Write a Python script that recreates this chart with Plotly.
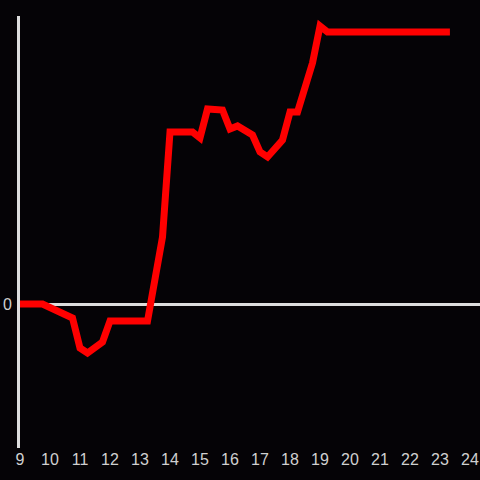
import plotly.graph_objects as go

hours = [9, 9.75, 10.75, 11, 11.25, 11.75, 12, 13.25, 13.75, 14, 14.75, 15, 15.25,
         15.75, 16, 16.25, 16.75, 17, 17.25, 17.75, 18, 18.25, 18.75, 19, 19.25, 23.33]
values = [0, 0, -14, -44, -49, -38, -17, -17, 67, 172, 172, 166, 195,
          194, 175, 178, 169, 152, 147, 164, 192, 192, 241, 278, 272, 272]
x_ticks = list(range(9, 25))
y_ticks = [0]
y_labels = ["0"]

fig = go.Figure()
fig.add_trace(go.Scatter(x=hours, y=values, mode="lines",
                         line=dict(color="#ff0000", width=7), hoverinfo="skip"))

fig.update_layout(
    width=480, height=480,
    margin=dict(l=20, r=0, t=16, b=32),
    paper_bgcolor="#050306", plot_bgcolor="#050306",
    showlegend=False,
    font=dict(family="Liberation Sans, Arial", size=16, color="#d0d0d0"),
    xaxis=dict(range=[9, 24.333], tickvals=x_ticks, ticktext=[str(t) for t in x_ticks],
               showgrid=False, zeroline=False, showline=False, ticks=""),
    yaxis=dict(range=[-144, 288], tickvals=y_ticks, ticktext=y_labels,
               showgrid=False, zeroline=True, zerolinecolor="#dddddd", zerolinewidth=3,
               showline=True, linecolor="#dddddd", linewidth=3, ticks="", ticklabelstandoff=2),
)
fig.write_html("out.html", config={"displayModeBar": False},
               post_script="document.body.style.margin='0';document.body.style.background='#050306';")
